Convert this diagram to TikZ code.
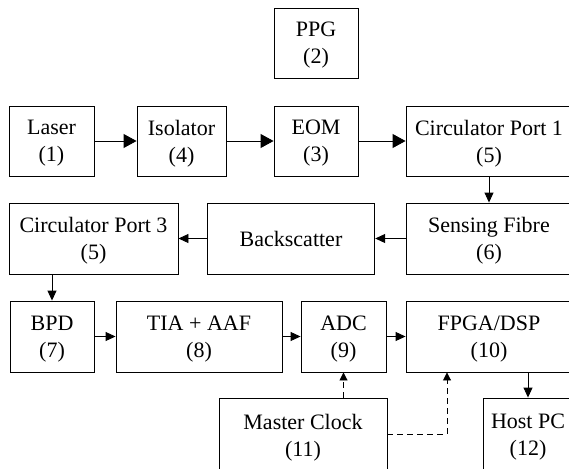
\documentclass[tikz,border=0pt]{standalone}
\usepackage{fontspec}
\setmainfont{Liberation Serif}
\usetikzlibrary{arrows.meta}
\begin{document}
\begin{tikzpicture}[x=1pt,y=-1pt,
  box/.style={draw, line width=0.9pt, inner sep=0pt, align=center, text depth=0pt,
    font=\fontsize{22}{27}\selectfont},
  bigarrow/.style={draw, line width=0.9pt, -{Triangle[length=13pt,width=14pt]}},
  midarrow/.style={draw, line width=0.9pt, -{Triangle[length=10pt,width=9pt]}},
  clkarrow/.style={draw, line width=0.9pt, dash pattern=on 6pt off 4pt, -{Triangle[length=8pt,width=8pt]}}]
\useasboundingbox (0,0) rectangle (569,468);
\clip (0,0) rectangle (569,468);
\fill[white] (0,0) rectangle (569,468);
% row 0
\node[box, minimum width=84pt, minimum height=70pt] (ppg) at (316,43) {PPG\\(2)};
% row 1
\node[box, minimum width=85pt, minimum height=70pt] (laser) at (51.5,141) {Laser\\(1)};
\node[box, minimum width=89pt, minimum height=70pt] (iso) at (181.5,141) {Isolator\\(4)};
\node[box, minimum width=84pt, minimum height=70pt] (eom) at (316,141) {EOM\\(3)};
\node[box, minimum width=166pt, minimum height=70pt] (circ1) at (489,141) {Circulator Port 1\\(5)};
% row 2
\node[box, minimum width=169pt, minimum height=71pt] (circ3) at (93.5,238.5) {Circulator Port 3\\(5)};
\node[box, minimum width=167.5pt, minimum height=71pt] (back) at (291,238.5) {Backscatter};
\node[box, minimum width=166pt, minimum height=71pt] (sens) at (489,238.5) {Sensing Fibre\\(6)};
% row 3
\node[box, minimum width=84pt, minimum height=71pt] (bpd) at (52,336.5) {BPD\\(7)};
\node[box, minimum width=166pt, minimum height=71pt] (tia) at (199,336.5) {TIA + AAF\\(8)};
\node[box, minimum width=85pt, minimum height=71pt] (adc) at (343.5,336.5) {ADC\\(9)};
\node[box, minimum width=166pt, minimum height=71pt] (fpga) at (489,336.5) {FPGA/DSP\\(10)};
% row 4
\node[box, minimum width=168pt, minimum height=74pt] (mc) at (303,435) {Master Clock\\(11)};
\node[box, minimum width=90pt, minimum height=74pt] (host) at (528,435) {Host PC\\(12)};
\coordinate (clk) at (447,434);
% connectors
\path[bigarrow] (laser) -- (iso);
\path[bigarrow] (iso) -- (eom);
\path[bigarrow] (eom) -- (circ1);
\path[midarrow] (circ1) -- (sens);
\path[midarrow] (sens) -- (back);
\path[midarrow] (back) -- (circ3);
\path[midarrow] (bpd |- circ3.south) -- (bpd.north);
\path[midarrow] (bpd) -- (tia);
\path[midarrow] (tia) -- (adc);
\path[midarrow] (adc) -- (fpga);
\path[midarrow] (host |- fpga.south) -- (host.north);
\path[clkarrow] (adc |- mc.north) -- (adc.south);
\path[clkarrow] (mc.east |- clk) -| (fpga.south -| clk);
\end{tikzpicture}
\end{document}
